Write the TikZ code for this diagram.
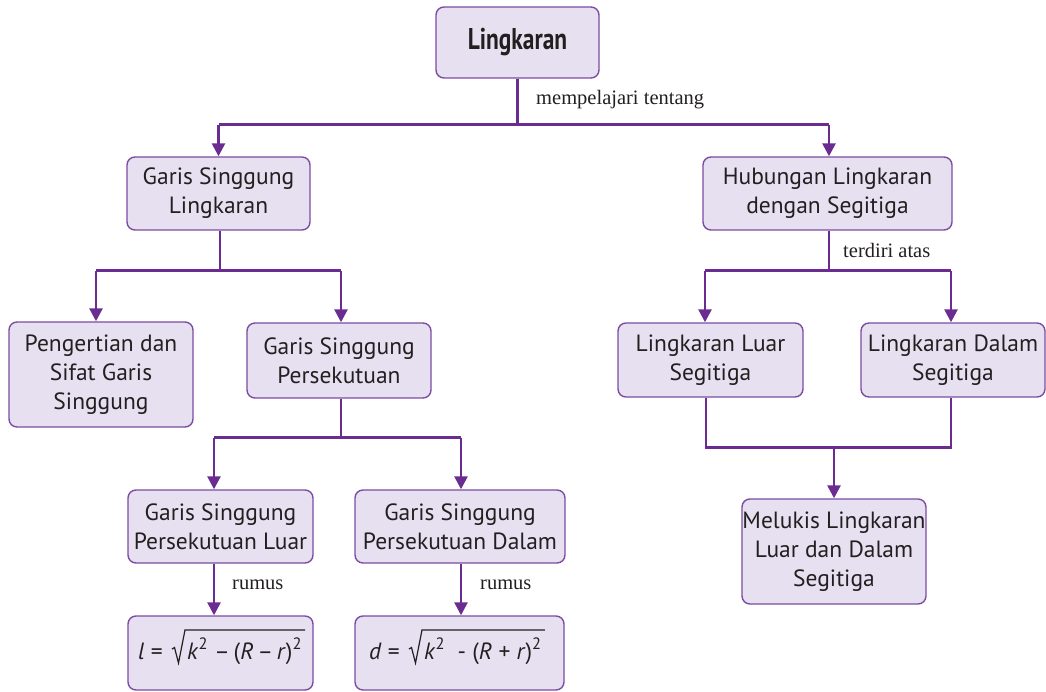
\documentclass[tikz,border=0pt]{standalone}
\usepackage{fontspec}
\setmainfont{PT Sans}
\newfontfamily\serifl{Liberation Serif}
\usetikzlibrary{arrows.meta}
\definecolor{ln}{HTML}{6A2C91}
\definecolor{bx}{HTML}{E7E0F0}
\definecolor{bd}{HTML}{7D4CA3}
\definecolor{tx}{HTML}{231F20}
\begin{document}
\begin{tikzpicture}[x=1pt,y=-1pt,
  box/.style={draw=bd,line width=1.4pt,fill=bx,rounded corners=8pt,align=center,
    font=\fontsize{23.5}{29}\selectfont,text=tx,inner sep=0pt},
  ftext/.style={font=\fontsize{23.5}{29}\selectfont,text=tx,inner sep=0pt,anchor=base west},
  rad/.style={draw=tx,line width=1.2pt,line join=miter},
  con/.style={draw=ln,line width=2.6pt},
  arr/.style={con,-{Triangle[length=13pt,width=13pt]}},
  lbl/.style={font=\serifl\fontsize{20.5}{24}\selectfont,anchor=west,inner sep=0pt,text=tx}]
\useasboundingbox (0,0) rectangle (1046,692);

\node[box,minimum width=163pt,minimum height=71pt] (root) at (517.5,42.5)
  {\scalebox{0.78}[1]{\fontsize{30}{30}\selectfont\bfseries Lingkaran}};
\node[box,minimum width=183pt,minimum height=73pt] (gsl) at (218.5,193.5)
  {Garis Singgung\\Lingkaran};
\node[box,minimum width=249pt,minimum height=73pt] (hub) at (827.5,193.5)
  {Hubungan Lingkaran\\dengan Segitiga};
\node[box,minimum width=184pt,minimum height=105pt] (peng) at (101,374.5)
  {Pengertian dan\\Sifat Garis\\Singgung};
\node[box,minimum width=184pt,minimum height=75pt] (gsp) at (339,360.5)
  {Garis Singgung\\Persekutuan};
\node[box,minimum width=185pt,minimum height=74pt] (llu) at (710.5,360)
  {Lingkaran Luar\\Segitiga};
\node[box,minimum width=184pt,minimum height=74pt] (ldl) at (953,360)
  {Lingkaran Dalam\\Segitiga};
\node[box,minimum width=184pt,minimum height=105pt] (mel) at (834,551.5)
  {Melukis Lingkaran\\Luar dan Dalam\\Segitiga};
\node[box,minimum width=185pt,minimum height=73pt] (gpl) at (220.5,526.5)
  {Garis Singgung\\Persekutuan Luar};
\node[box,minimum width=210pt,minimum height=73pt] (gpd) at (460,526.5)
  {Garis Singgung\\Persekutuan Dalam};

% formula boxes
\node[box,minimum width=185pt,minimum height=74pt] (f1) at (220.5,653) {};
\node[ftext] (f1a) at (138,659) {\textit{l} =};
\node[ftext] (f1b) at (187,659) {\textit{k}\textsuperscript{2}\ –\,(\textit{R}\,–\,\textit{r})\textsuperscript{2}};
\draw[rad] ([xshift=-15pt,yshift=10pt]f1b.base west) -- ++(2.5,-1.5) -- ++(4,15.5)
  -- ++(6.5,-33) coordinate (t1) -- ([xshift=3pt]t1 -| f1b.east);

\node[box,minimum width=209pt,minimum height=74pt] (f2) at (459.5,653) {};
\node[ftext] (f2a) at (369,659) {\textit{d} =};
\node[ftext] (f2b) at (424,659) {\textit{k}\textsuperscript{2}\ \ - (\textit{R} + \textit{r})\textsuperscript{2}};
\draw[rad] ([xshift=-15pt,yshift=10pt]f2b.base west) -- ++(2.5,-1.5) -- ++(4,15.5)
  -- ++(6.5,-33) coordinate (t2) -- ([xshift=3pt]t2 -| f2b.east);

% root -> level 1
\coordinate (j1) at ([yshift=-46pt]root.south);
\draw[con] (root.south) -- (j1);
\draw[con] (gsl.north |- j1) -- ([xshift=1.5pt]hub.north |- j1);
\draw[arr] (gsl.north |- j1) -- (gsl.north);
\draw[arr] ([xshift=1.5pt]hub.north |- j1) -- ([xshift=1.5pt]hub.north);
\node[lbl] (l1) at (536,100) {mempelajari tentang};

% gsl -> children
\coordinate (j2) at ([xshift=1.5pt,yshift=-40pt]gsl.south);
\draw[con] ([xshift=1.5pt]gsl.south) -- (j2);
\draw[con] ([xshift=-5pt]peng.north |- j2) -- ([xshift=2pt]gsp.north |- j2);
\draw[arr] ([xshift=-5pt]peng.north |- j2) -- ([xshift=-5pt]peng.north);
\draw[arr] ([xshift=2pt]gsp.north |- j2) -- ([xshift=2pt]gsp.north);

% hub -> children
\coordinate (j3) at ([xshift=1.5pt,yshift=-40pt]hub.south);
\draw[con] ([xshift=1.5pt]hub.south) -- (j3);
\draw[con] ([xshift=-5.5pt]llu.north |- j3) -- ([xshift=-2pt]ldl.north |- j3);
\draw[arr] ([xshift=-5.5pt]llu.north |- j3) -- ([xshift=-5.5pt]llu.north);
\draw[arr] ([xshift=-2pt]ldl.north |- j3) -- ([xshift=-2pt]ldl.north);
\node[lbl] (l2) at (843,250) {terdiri atas};

% gsp -> children
\coordinate (j4) at ([xshift=2pt,yshift=-39pt]gsp.south);
\draw[con] ([xshift=2pt]gsp.south) -- (j4);
\draw[con] ([xshift=-6.5pt]gpl.north |- j4) -- ([xshift=1pt]gpd.north |- j4);
\draw[arr] ([xshift=-6.5pt]gpl.north |- j4) -- ([xshift=-6.5pt]gpl.north);
\draw[arr] ([xshift=1pt]gpd.north |- j4) -- ([xshift=1pt]gpd.north);

% llu, ldl -> mel
\coordinate (j5) at ([xshift=-4.5pt,yshift=-50pt]llu.south);
\draw[con] ([xshift=-4.5pt]llu.south) -- (j5) -- ([xshift=-2pt]ldl.south |- j5) -- ([xshift=-2pt]ldl.south);
\draw[arr] (mel.north |- j5) -- (mel.north);

% formulas
\draw[arr] ([xshift=-6.5pt]gpl.south) -- ([xshift=-6.5pt]f1.north);
\draw[arr] ([xshift=1pt]gpd.south) -- ([xshift=1.5pt]f2.north);
\node[lbl] (r1) at (232,585) {rumus};
\node[lbl] (r2) at (480,585) {rumus};
\end{tikzpicture}
\end{document}
